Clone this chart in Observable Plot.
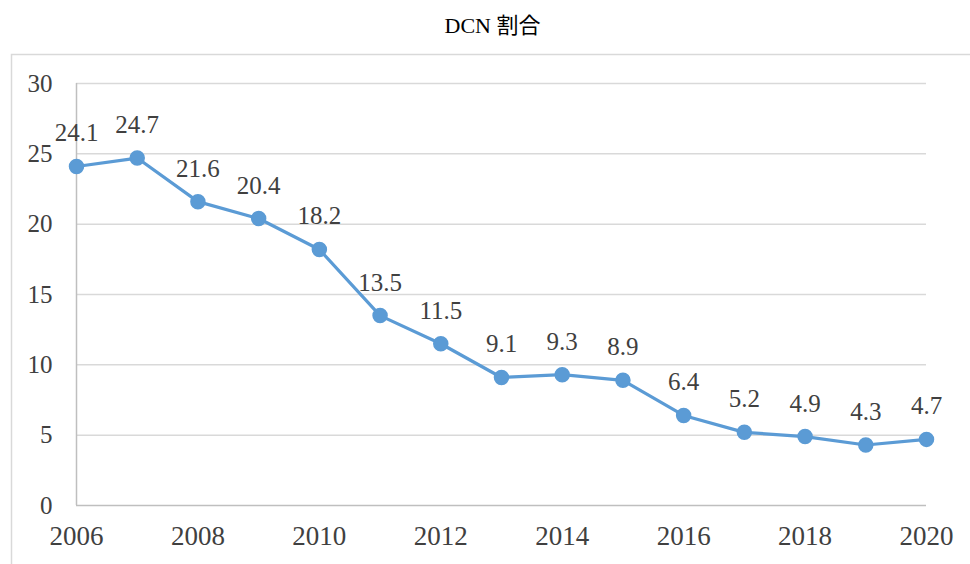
<!DOCTYPE html>
<html>
<head>
<meta charset="utf-8">
<script src="https://cdn.jsdelivr.net/npm/d3@7"></script>
<script src="https://cdn.jsdelivr.net/npm/@observablehq/plot@0.6"></script>
<style>
  html, body { margin: 0; padding: 0; background: #fff; }
  #chart { position: relative; width: 970px; height: 564px; }
  #chart svg text { font-family: 'Liberation Serif', 'Times New Roman', 'Noto Sans CJK JP', serif !important; }
</style>
</head>
<body>
<div id="chart"></div>
<script>
const title = "DCN 割合";
const years = [2006, 2007, 2008, 2009, 2010, 2011, 2012, 2013, 2014, 2015, 2016, 2017, 2018, 2019, 2020];
const values = [24.1, 24.7, 21.6, 20.4, 18.2, 13.5, 11.5, 9.1, 9.3, 8.9, 6.4, 5.2, 4.9, 4.3, 4.7];
const yTicks = [0, 5, 10, 15, 20, 25, 30];
const xTicks = [2006, 2008, 2010, 2012, 2014, 2016, 2018, 2020];

const data = years.map((y, i) => ({year: y, value: values[i]}));
const serif = "'Liberation Serif', 'Times New Roman', 'Noto Sans CJK JP', serif";
const textColor = "#404040";
const lineColor = "#5b9bd5";

const plot = Plot.plot({
  width: 970,
  height: 564,
  marginLeft: 76,
  marginRight: 44,
  marginTop: 83,
  marginBottom: 59,
  style: {fontFamily: serif, background: "#fff", overflow: "visible"},
  x: {domain: [2006, 2020], ticks: xTicks, tickFormat: d => String(d), label: null, tickSize: 0, tickPadding: 0},
  y: {domain: [0, 30], ticks: yTicks, label: null, tickSize: 0},
  marks: [
    Plot.ruleY(yTicks.filter(d => d > 0), {stroke: "#d9d9d9", strokeWidth: 1.5}),
    Plot.ruleY([0], {stroke: "#bfbfbf", strokeWidth: 1.5}),
    Plot.ruleX([2006], {stroke: "#bfbfbf", strokeWidth: 1.5}),
    Plot.axisY({ticks: yTicks, tickSize: 0, tickPadding: 24, fontSize: 25, fill: textColor, label: null}),
    Plot.axisX({ticks: xTicks, tickSize: 0, tickPadding: 20, fontSize: 27, fill: textColor, label: null, tickFormat: d => String(d)}),
    Plot.line(data, {x: "year", y: "value", stroke: lineColor, strokeWidth: 3.2}),
    Plot.dot(data, {x: "year", y: "value", r: 7, fill: lineColor, stroke: lineColor}),
    Plot.text(data, {x: "year", y: "value", text: d => d.value.toFixed(1), dy: -33, fontSize: 25, fill: textColor}),
    Plot.text([title], {frameAnchor: "top", lineAnchor: "middle", dy: -58, dx: -9, fontSize: 22, fill: "#000"})
  ]
});

// outer chart border
const svg = d3.select(plot);
svg.insert("rect", ":first-child")
  .attr("x", 11.5).attr("y", 54.5)
  .attr("width", 980).attr("height", 540)
  .attr("fill", "none").attr("stroke", "#d9d9d9").attr("stroke-width", 1.5);
svg.selectAll("text").style("font-family", serif);

document.getElementById("chart").appendChild(plot);
</script>
</body>
</html>
